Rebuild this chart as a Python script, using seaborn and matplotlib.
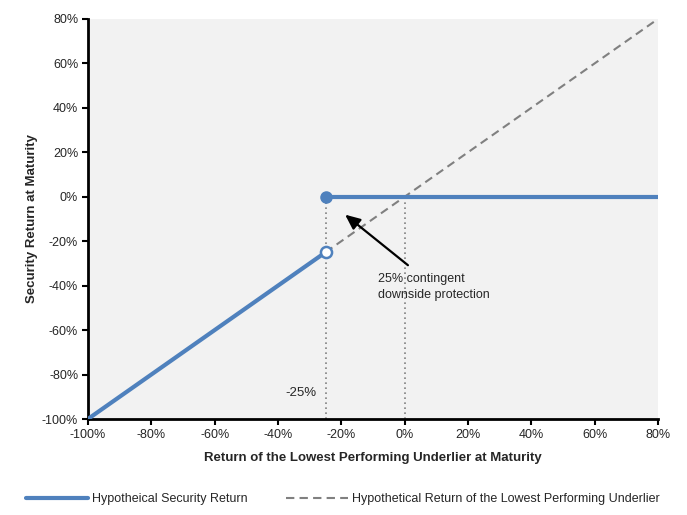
import matplotlib
matplotlib.use("Agg")
import matplotlib.pyplot as plt
import seaborn as sns
import pandas as pd

# payoff segments (percent)
below_x = [-100, -25]
below_y = [-100, -25]
above_x = [-25, 80]
above_y = [0, 0]
underlier_x = [-25, 80]
underlier_y = [-25, 80]
barrier = -25
guide_x = [-25, 0]

xticks = list(range(-100, 81, 20))
yticks = list(range(-100, 81, 20))

blue = "#4F81BD"
grey = "#808080"

sns.set_style("white")
plt.rcParams["font.family"] = ["Liberation Sans", "DejaVu Sans"]

fig = plt.figure(figsize=(6.87, 5.15), dpi=100)
ax = fig.add_axes([0.128, 0.1864, 0.83, 0.777])
ax.set_facecolor("#F2F2F2")

for gx in guide_x:
    ax.plot([gx, gx], [-100, 0], color=grey, ls=(0, (1, 2)), lw=1.2, zorder=1)

sns.lineplot(x=underlier_x, y=underlier_y, ax=ax, color=grey, lw=1.5,
             linestyle=(0, (4, 2.5)), zorder=2,
             label="Hypothetical Return of the Lowest Performing Underlier")
sns.lineplot(x=below_x, y=below_y, ax=ax, color=blue, lw=3, zorder=3,
             label="Hypotheical Security Return")
sns.lineplot(x=above_x, y=above_y, ax=ax, color=blue, lw=3, zorder=3)
ax.plot(barrier, above_y[0], "o", color=blue, ms=8, zorder=4)
ax.plot(barrier, below_y[-1], "o", mfc="white", mec=blue, mew=1.8, ms=8, zorder=4)

ax.annotate("", xy=(-19.5, -7.3), xytext=(1.7, -31.6),
            arrowprops=dict(arrowstyle="-|>,head_width=0.4,head_length=0.9",
                            color="black", lw=1.6))
ax.text(-8.4, -34.5, "25% contingent\ndownside protection", fontsize=9,
        va="top", ha="left", linespacing=1.35)
ax.text(-32.7, -88.3, "-25%", fontsize=9.5, ha="center", va="center")

ax.set_xlim(-100, 80)
ax.set_ylim(-100, 80)
ax.set_xticks(xticks)
ax.set_yticks(yticks)
ax.set_xticklabels([f"{t}%" for t in xticks], fontsize=9)
ax.set_yticklabels([f"{t}%" for t in yticks], fontsize=9)
ax.tick_params(axis="both", direction="out", length=4, width=1.5, color="black",
               bottom=True, left=True, pad=3)

for side in ["top", "right"]:
    ax.spines[side].set_visible(False)
for side in ["left", "bottom"]:
    ax.spines[side].set_color("black")
    ax.spines[side].set_linewidth(2)

ax.set_xlabel("Return of the Lowest Performing Underlier at Maturity",
              fontsize=9.5, fontweight="bold", labelpad=8)
ax.set_ylabel("Security Return at Maturity", fontsize=9.5, fontweight="bold",
              labelpad=3)

handles, labels = ax.get_legend_handles_labels()
order = [1, 0]
ax.legend([handles[i] for i in order], [labels[i] for i in order],
          loc="center", bbox_to_anchor=(0.447, -0.2), ncol=2, frameon=False,
          fontsize=9, handlelength=5.0, columnspacing=3.0, handletextpad=0.35)

fig.savefig("out.png", dpi=100)
